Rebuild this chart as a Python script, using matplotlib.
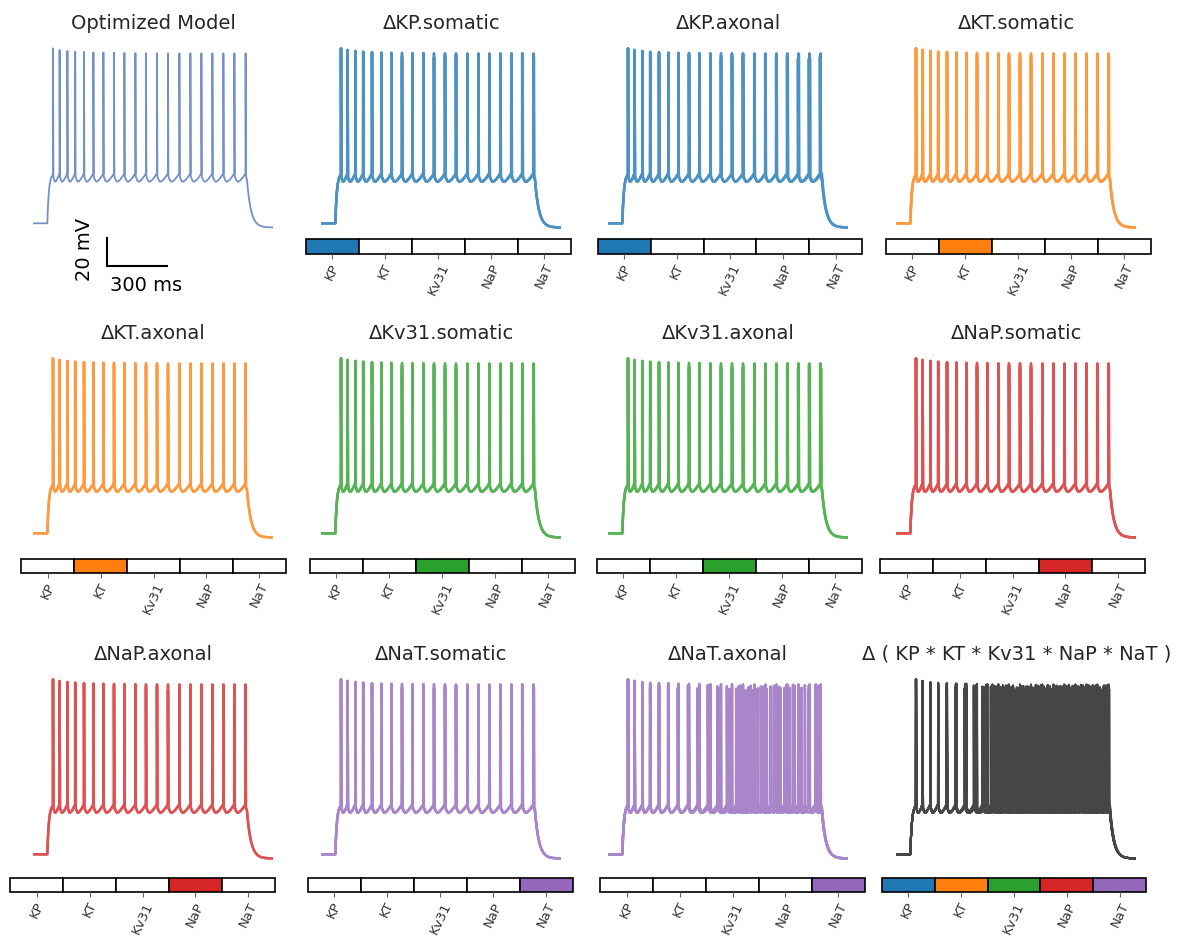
import numpy as np
import matplotlib.pyplot as plt
from matplotlib.patches import Rectangle

# channels and panel definitions
CHANNELS = ['KP', 'KT', 'Kv31', 'NaP', 'NaT']
CHANNEL_COLORS = ['#1f77b4', '#ff7f0e', '#2ca02c', '#d62728', '#9467bd']
# lighter versions of the channel colours used for the voltage traces
TRACE_COLORS = ['#4c92c3', '#ff993e', '#56b356', '#de5253', '#a985ca']

TITLES = ['Optimized Model', 'ΔKP.somatic', 'ΔKP.axonal', 'ΔKT.somatic',
          'ΔKT.axonal', 'ΔKv31.somatic', 'ΔKv31.axonal', 'ΔNaP.somatic',
          'ΔNaP.axonal', 'ΔNaT.somatic', 'ΔNaT.axonal',
          'Δ ( KP * KT * Kv31 * NaP * NaT )']
# which channels are perturbed in each panel (indices into CHANNELS)
ACTIVE = [None, [0], [0], [1], [1], [2], [2], [3], [3], [4], [4], [0, 1, 2, 3, 4]]

# spike times of the optimized model (ms) and spike peaks (mV)
BASE_SPIKES = [98, 131, 170, 209, 253, 300, 350, 403, 455, 510,
               563, 618, 673, 730, 785, 840, 895, 950, 1005, 1061]
PEAKS = [50.0, 48.8, 48.1, 47.6, 47.4, 47.1, 46.9, 46.8, 46.7, 46.6,
         46.5, 46.5, 46.4, 46.4, 46.4, 46.4, 46.4, 46.4, 46.4, 46.4]

# late firing-rate gain of each overlaid trace per panel
GAINS = [
    [0.0],
    [-0.005, 0.0, 0.005],
    [-0.012, 0.0, 0.012],
    [-0.004, 0.0, 0.004],
    [0.0, 0.003],
    [-0.004, 0.0, 0.004],
    [-0.008, 0.0, 0.008],
    [-0.004, 0.0, 0.004],
    [0.0, 0.003],
    [-0.005, 0.0, 0.005],
    [0.0, 0.1, 0.25, 0.45, 0.7],
    [0.0, 0.08, 0.18, 0.3, 0.45, 0.6, 0.8, 1.0, 1.25, 1.5, 1.8, 2.1, 2.5],
]

REST, REST_END = -75.0, -78.0
THRESH, REPOL, AHP = -39.3, -41.5, -45.3
STIM_ON, STIM_OFF, T_END = 70.0, 1068.0, 1200.0
TAU_ON, TAU_OFF = 8.0, 20.0

T = np.arange(0, T_END + 0.05, 0.1)


def spike_train(gain):
    isis = np.diff(BASE_SPIKES)
    times = [BASE_SPIKES[0]]
    i = 0
    while True:
        frac = (times[-1] - BASE_SPIKES[0]) / (STIM_OFF - BASE_SPIKES[0])
        nxt = times[-1] + isis[min(i, len(isis) - 1)] / (1 + gain * frac ** 2)
        if nxt > STIM_OFF - 4:
            break
        times.append(nxt)
        i += 1
    return np.array(times)


def voltage(spikes):
    v = np.full_like(T, REST)
    pre = (T >= STIM_ON) & (T < spikes[0])
    v[pre] = REST + (THRESH - REST) * (1 - np.exp(-(T[pre] - STIM_ON) / TAU_ON))
    for k, tk in enumerate(spikes):
        if k + 1 < len(spikes):
            nxt = spikes[k + 1]
            isi = nxt - tk
        else:
            nxt = STIM_OFF
            isi = tk - spikes[k - 1] if k > 0 else 50.0
        seg = (T >= tk) & (T < nxt)
        s = T[seg] - tk
        peak = PEAKS[min(k, len(PEAKS) - 1)]
        vs = np.empty_like(s)
        up = s < 0.5
        down = (s >= 0.5) & (s < 2.0)
        rec = s >= 2.0
        vs[up] = THRESH + (peak - THRESH) * s[up] / 0.5
        vs[down] = peak + (REPOL - peak) * (s[down] - 0.5) / 1.5
        r = np.clip((s[rec] - 2.0) / (isi - 2.0), 0, None)
        fall = r < 0.3
        vr = np.empty_like(r)
        vr[fall] = REPOL + (AHP - REPOL) * np.sin(np.pi / 2 * r[fall] / 0.3)
        rise = np.clip((r[~fall] - 0.3) / 0.7, 0, 1)
        vr[~fall] = AHP + (THRESH - AHP) * rise ** 1.5
        vs[rec] = vr
        v[seg] = vs
    v_off = v[T < STIM_OFF][-1]
    post = T >= STIM_OFF
    v[post] = REST_END + (v_off - REST_END) * np.exp(-(T[post] - STIM_OFF) / TAU_OFF)
    return v


W, H = 1185, 936
fig = plt.figure(figsize=(W / 100, H / 100), dpi=100)


def px_axes(left, top, width, height):
    return fig.add_axes([left / W, 1 - (top + height) / H, width / W, height / H])


col_left = [33.3, 321.3, 608.3, 896.3]
row_top = [45.5, 355.5, 676.5]
bar_left = [[None, 306, 597.7, 886], [21.3, 310, 597, 880.3], [10.3, 308, 600.3, 881.7]]
bar_top = [239.3, 558.5, 878]
trace_w, trace_h = 240, 184.8
bar_w, bar_h = 264.5, 14.3

for idx, title in enumerate(TITLES):
    r, c = divmod(idx, 4)
    ax = px_axes(col_left[c], row_top[r], trace_w, trace_h)
    active = ACTIVE[idx]
    if active is None:
        color, lw = '#7391c6', 1.3
    elif len(active) == 1:
        color, lw = TRACE_COLORS[active[0]], 1.8
    else:
        color, lw = '#464646', 1.5
    for g in GAINS[idx]:
        ax.plot(T, voltage(spike_train(g)), color=color, lw=lw)
    ax.set_xlim(0, T_END)
    ax.set_ylim(-80, 52)
    ax.axis('off')
    ax.set_title(title, fontsize=14, color='#262626', pad=12)

    if active is None:
        # scale bar: 300 ms, 20 mV
        ax.plot([367, 367, 667], [-85.5, -105.5, -105.5], color='black', lw=1.5,
                clip_on=False, solid_joinstyle='miter')
        ax.text(258, -94, '20 mV', rotation=90, ha='center', va='center',
                fontsize=14, color='black', clip_on=False)
        ax.text(562, -119.5, '300 ms', ha='center', va='center',
                fontsize=14, color='black', clip_on=False)
        continue

    bx = px_axes(bar_left[r][c], bar_top[r], bar_w, bar_h)
    for i, ch in enumerate(CHANNELS):
        face = CHANNEL_COLORS[i] if i in active else 'white'
        bx.add_patch(Rectangle((i, 0), 1, 1, facecolor=face, edgecolor='black',
                               lw=1.2, clip_on=False))
    bx.set_xlim(0, len(CHANNELS))
    bx.set_ylim(0, 1)
    for sp in bx.spines.values():
        sp.set_visible(False)
    bx.set_yticks([])
    bx.set_xticks(np.arange(len(CHANNELS)) + 0.5)
    bx.set_xticklabels(CHANNELS, rotation=65)
    bx.tick_params(axis='x', length=3.5, width=0.8, color='#666666',
                   labelsize=9.5, labelcolor='#333333', pad=2)

fig.savefig('out.png', dpi=100)
